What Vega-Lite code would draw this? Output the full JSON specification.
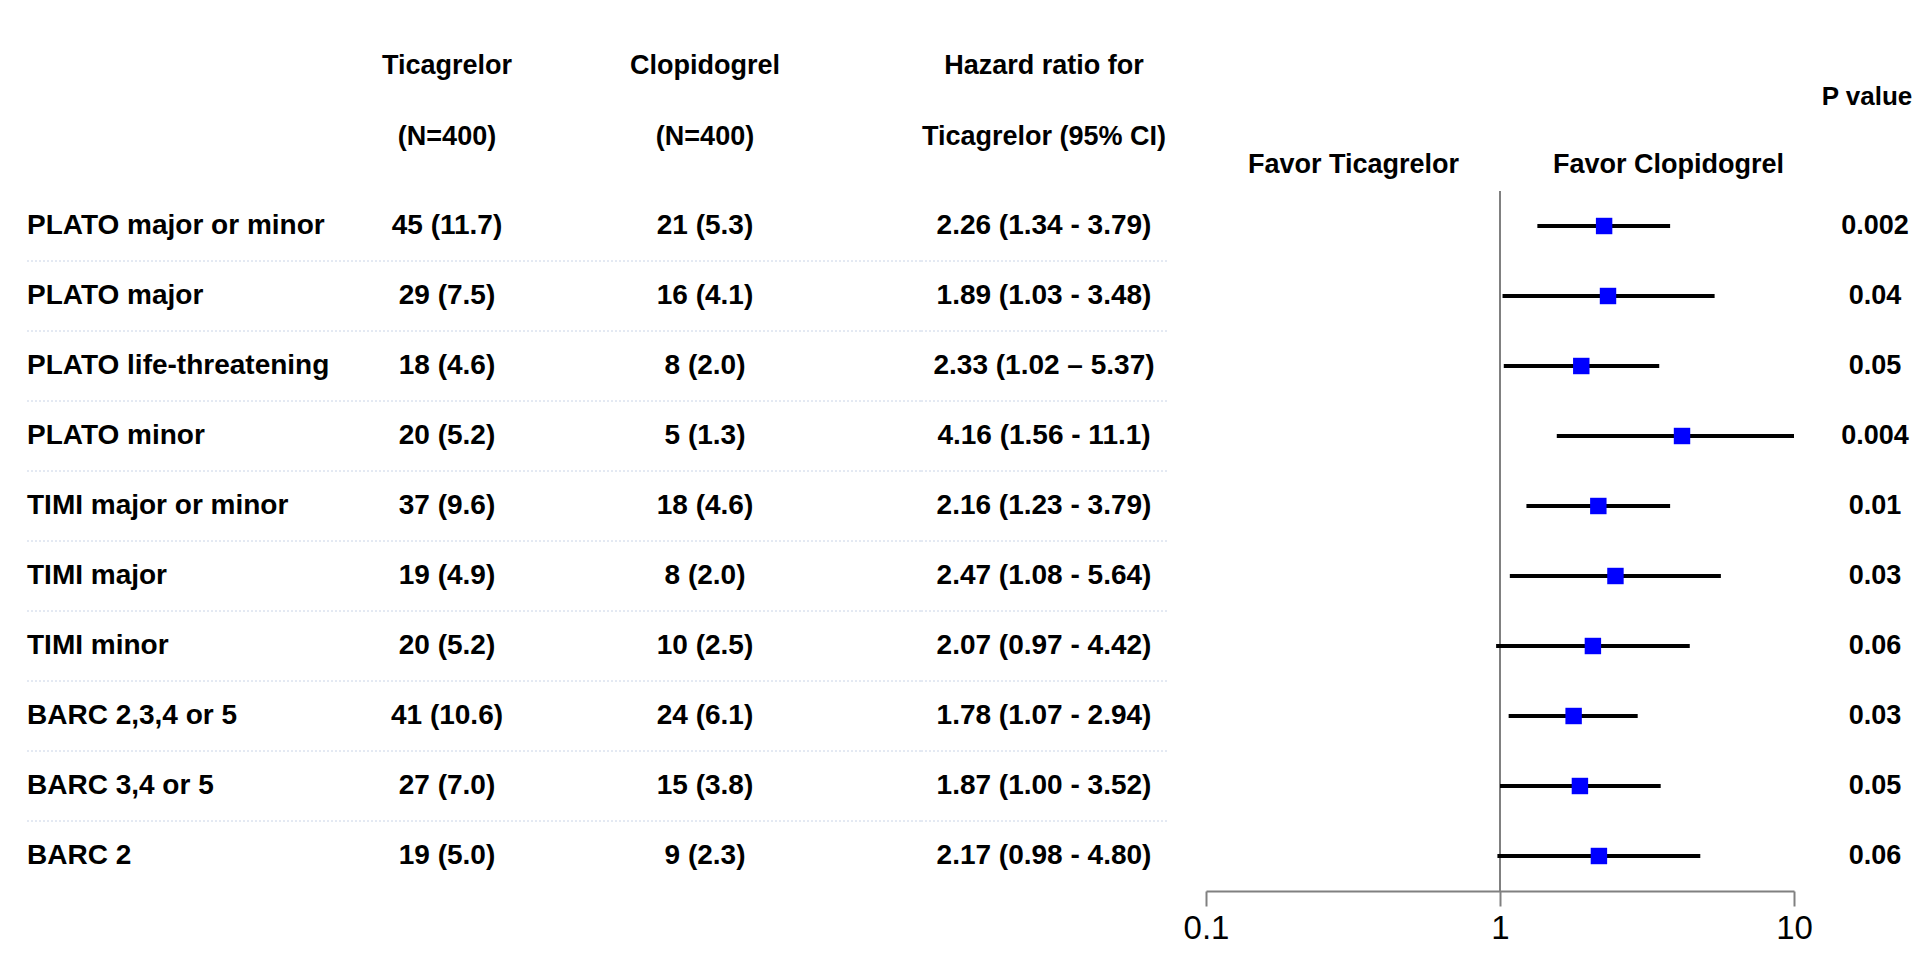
{
  "$schema": "https://vega.github.io/schema/vega-lite/v6.json",
  "background": "white",
  "padding": {"left": 25, "right": 7, "top": 52, "bottom": 20},
  "spacing": 0,
  "bounds": "flush",
  "data": {
    "values": [
      {"label": "PLATO major or minor", "tic": "45 (11.7)", "clo": "21 (5.3)", "hrci": "2.26 (1.34 - 3.79)", "p": "0.002", "hr": 2.26, "lo": 1.34, "hi": 3.79},
      {"label": "PLATO major", "tic": "29 (7.5)", "clo": "16 (4.1)", "hrci": "1.89 (1.03 - 3.48)", "p": "0.04", "hr": 2.33, "lo": 1.02, "hi": 5.37},
      {"label": "PLATO life-threatening", "tic": "18 (4.6)", "clo": "8 (2.0)", "hrci": "2.33 (1.02 – 5.37)", "p": "0.05", "hr": 1.89, "lo": 1.03, "hi": 3.48},
      {"label": "PLATO minor", "tic": "20 (5.2)", "clo": "5 (1.3)", "hrci": "4.16 (1.56 - 11.1)", "p": "0.004", "hr": 4.16, "lo": 1.56, "hi": 11.1},
      {"label": "TIMI major or minor", "tic": "37 (9.6)", "clo": "18 (4.6)", "hrci": "2.16 (1.23 - 3.79)", "p": "0.01", "hr": 2.16, "lo": 1.23, "hi": 3.79},
      {"label": "TIMI major", "tic": "19 (4.9)", "clo": "8 (2.0)", "hrci": "2.47 (1.08 - 5.64)", "p": "0.03", "hr": 2.47, "lo": 1.08, "hi": 5.64},
      {"label": "TIMI minor", "tic": "20 (5.2)", "clo": "10 (2.5)", "hrci": "2.07 (0.97 - 4.42)", "p": "0.06", "hr": 2.07, "lo": 0.97, "hi": 4.42},
      {"label": "BARC 2,3,4 or 5", "tic": "41 (10.6)", "clo": "24 (6.1)", "hrci": "1.78 (1.07 - 2.94)", "p": "0.03", "hr": 1.78, "lo": 1.07, "hi": 2.94},
      {"label": "BARC 3,4 or 5", "tic": "27 (7.0)", "clo": "15 (3.8)", "hrci": "1.87 (1.00 - 3.52)", "p": "0.05", "hr": 1.87, "lo": 1.0, "hi": 3.52},
      {"label": "BARC 2", "tic": "19 (5.0)", "clo": "9 (2.3)", "hrci": "2.17 (0.98 - 4.80)", "p": "0.06", "hr": 2.17, "lo": 0.98, "hi": 4.8}
    ]
  },
  "config": {
    "view": {"stroke": null},
    "text": {"font": "Liberation Sans", "fontSize": 28, "fontWeight": "bold", "color": "#000000"},
    "title": {"font": "Liberation Sans", "fontSize": 27, "fontWeight": "bold", "color": "#000000", "anchor": "middle", "frame": "group", "lineHeight": 71}
  },
  "hconcat": [
    {
      "width": 379, "height": 700,
      "layer": [
        {
          "transform": [{"filter": "datum.label != 'BARC 2'"}],
          "mark": {"type": "rule", "color": "#c8d3e6", "strokeWidth": 1, "strokeDash": [2, 2]},
          "encoding": {"y": {"field": "label", "type": "nominal", "sort": null, "bandPosition": 1, "scale": {"type": "band", "paddingInner": 0, "paddingOuter": 0}, "axis": null}}
        },
        {
          "mark": {"type": "text", "align": "left", "dx": 1},
          "encoding": {
            "x": {"datum": 0, "type": "quantitative", "scale": {"domain": [0, 1]}, "axis": null},
            "y": {"field": "label", "type": "nominal", "sort": null, "scale": {"type": "band", "paddingInner": 0, "paddingOuter": 0}, "axis": null},
            "text": {"field": "label"}
          }
        }
      ]
    },
    {
      "width": 84, "height": 700,
      "title": {"text": ["Ticagrelor", "(N=400)"], "offset": 40},
      "layer": [
        {
          "transform": [{"filter": "datum.label != 'BARC 2'"}],
          "mark": {"type": "rule", "color": "#c8d3e6", "strokeWidth": 1, "strokeDash": [2, 2]},
          "encoding": {"y": {"field": "label", "type": "nominal", "sort": null, "bandPosition": 1, "scale": {"type": "band", "paddingInner": 0, "paddingOuter": 0}, "axis": null}}
        },
        {
          "mark": {"type": "text"},
          "encoding": {
            "y": {"field": "label", "type": "nominal", "sort": null, "scale": {"type": "band", "paddingInner": 0, "paddingOuter": 0}, "axis": null},
            "text": {"field": "tic"}
          }
        }
      ]
    },
    {
      "width": 432, "height": 700,
      "title": {"text": ["Clopidogrel", "(N=400)"], "offset": 40},
      "layer": [
        {
          "transform": [{"filter": "datum.label != 'BARC 2'"}],
          "mark": {"type": "rule", "color": "#c8d3e6", "strokeWidth": 1, "strokeDash": [2, 2]},
          "encoding": {"y": {"field": "label", "type": "nominal", "sort": null, "bandPosition": 1, "scale": {"type": "band", "paddingInner": 0, "paddingOuter": 0}, "axis": null}}
        },
        {
          "mark": {"type": "text"},
          "encoding": {
            "y": {"field": "label", "type": "nominal", "sort": null, "scale": {"type": "band", "paddingInner": 0, "paddingOuter": 0}, "axis": null},
            "text": {"field": "clo"}
          }
        }
      ]
    },
    {
      "width": 246, "height": 700,
      "title": {"text": ["Hazard ratio for", "Ticagrelor (95% CI)"], "offset": 40},
      "layer": [
        {
          "transform": [{"filter": "datum.label != 'BARC 2'"}],
          "mark": {"type": "rule", "color": "#c8d3e6", "strokeWidth": 1, "strokeDash": [2, 2]},
          "encoding": {"y": {"field": "label", "type": "nominal", "sort": null, "bandPosition": 1, "scale": {"type": "band", "paddingInner": 0, "paddingOuter": 0}, "axis": null}}
        },
        {
          "mark": {"type": "text"},
          "encoding": {
            "y": {"field": "label", "type": "nominal", "sort": null, "scale": {"type": "band", "paddingInner": 0, "paddingOuter": 0}, "axis": null},
            "text": {"field": "hrci"}
          }
        }
      ]
    },
    {
      "width": 39, "height": 700,
      "mark": {"type": "text", "text": ""}
    },
    {
      "width": 588, "height": 700,
      "layer": [
        {
          "mark": {"type": "rule", "color": "#808080", "strokeWidth": 1.5},
          "encoding": {
            "x": {
              "datum": 1, "type": "quantitative",
              "scale": {"type": "log", "domain": [0.1, 10], "nice": false},
              "axis": {"orient": "top", "values": [0.3162, 3.73], "labelExpr": "datum.value < 1 ? 'Favor Ticagrelor' : 'Favor Clopidogrel'", "domain": false, "ticks": false, "tickSize": 0, "grid": false, "labelFont": "Liberation Sans", "labelFontSize": 27, "labelFontWeight": "bold", "labelColor": "#000000", "labelPadding": 13, "labelLimit": 0, "labelFlush": false, "labelOverlap": false, "title": null}
            }
          }
        },
        {
          "mark": {"type": "rule", "color": "#000000", "strokeWidth": 4, "clip": true},
          "encoding": {
            "x": {
              "field": "lo", "type": "quantitative",
              "scale": {"type": "log", "domain": [0.1, 10], "nice": false},
              "axis": {"orient": "bottom", "values": [0.1, 1, 10], "labelExpr": "datum.value < 0.5 ? '0.1' : datum.value < 5 ? '1' : '10'", "domainColor": "#808080", "domainWidth": 2, "tickColor": "#808080", "tickWidth": 2, "tickSize": 15, "labelFont": "Liberation Sans", "labelFontSize": 33, "labelFontWeight": "normal", "labelColor": "#000000", "labelPadding": 6, "labelFlush": false, "labelOverlap": false, "grid": false, "title": null}
            },
            "x2": {"field": "hi"},
            "y": {"field": "label", "type": "nominal", "sort": null, "scale": {"type": "band", "paddingInner": 0, "paddingOuter": 0}, "axis": null}
          }
        },
        {
          "mark": {"type": "point", "shape": "square", "filled": true, "size": 270, "color": "#0000ff", "opacity": 1},
          "encoding": {
            "x": {"field": "hr", "type": "quantitative", "scale": {"type": "log", "domain": [0.1, 10], "nice": false}, "axis": null},
            "y": {"field": "label", "type": "nominal", "sort": null, "scale": {"type": "band", "paddingInner": 0, "paddingOuter": 0}, "axis": null}
          }
        }
      ],
      "resolve": {"axis": {"x": "independent"}}
    },
    {
      "width": 31, "height": 700,
      "mark": {"type": "text", "text": ""}
    },
    {
      "width": 100, "height": 700,
      "title": {"text": "P value", "fontSize": 26, "offset": 81, "dx": -8},
      "mark": {"type": "text", "fontSize": 27},
      "encoding": {
        "y": {"field": "label", "type": "nominal", "sort": null, "scale": {"type": "band", "paddingInner": 0, "paddingOuter": 0}, "axis": null},
        "text": {"field": "p"}
      }
    }
  ]
}
